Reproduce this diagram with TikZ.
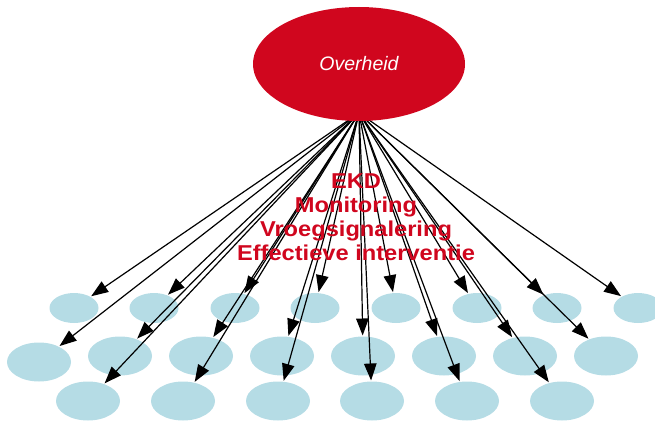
\documentclass[tikz,border=0pt]{standalone}
\usepackage{fontspec}
\setmainfont{Liberation Sans}
\usetikzlibrary{shapes.geometric,arrows.meta}
\definecolor{ovred}{RGB}{208,6,30}
\definecolor{dotblue}{RGB}{181,220,229}
\begin{document}
\begin{tikzpicture}[x=1pt,y=-1pt,
  small/.style={ellipse,fill=dotblue,draw=none,inner sep=0pt,outer sep=0pt,minimum width=49pt,minimum height=30pt},
  big/.style={ellipse,fill=dotblue,draw=none,inner sep=0pt,outer sep=0pt,minimum width=64pt,minimum height=39pt},
  arr/.style={-{Triangle[length=17pt,width=12.5pt]},line width=1.2pt,black,shorten >=1pt},
  redtext/.style={text=ovred,font=\fontsize{21.5}{24}\selectfont\bfseries,xscale=1.1,anchor=base,inner sep=0pt}]
\useasboundingbox (0,0) rectangle (655,420);
\clip (0,0) rectangle (655,420);
% row 1
\foreach \i/\x in {1/74,2/154,3/235,4/315,5/396,6/477,7/557,8/638}
  \node[small] (a\i) at (\x,308) {};
% row 2
\node[big] (b1) at (39,362) {};
\foreach \i/\x in {2/120,3/201,4/282,5/363,6/444,7/525,8/606}
  \node[big] (b\i) at (\x,356) {};
% row 3
\foreach \i/\x in {1/88,2/183,3/278,4/372,5/467,6/562}
  \node[big] (c\i) at (\x,401) {};
% source
\coordinate (src) at (359,113);
\foreach \n in {a1,a2,a3,a4,a5,a6,a7,a8,b1,b2,b3,b4,b5,b6,b7,b8,c1,c2,c3,c4,c5,c6}
  \draw[arr] (src) -- (\n);
% top ellipse
\node[ellipse,fill=ovred,draw=none,inner sep=0pt,outer sep=0pt,minimum width=212pt,minimum height=114pt,
  text=white,font=\fontsize{19.5}{22}\selectfont\itshape] (ov) at (359,64) {Overheid};
% text
\node[redtext] (t1) at (356,188) {EKD};
\node[redtext] (t2) at (356,212) {Monitoring};
\node[redtext] (t3) at (356,236) {Vroegsignalering};
\node[redtext] (t4) at (356,260) {Effectieve interventie};
\end{tikzpicture}
\end{document}
